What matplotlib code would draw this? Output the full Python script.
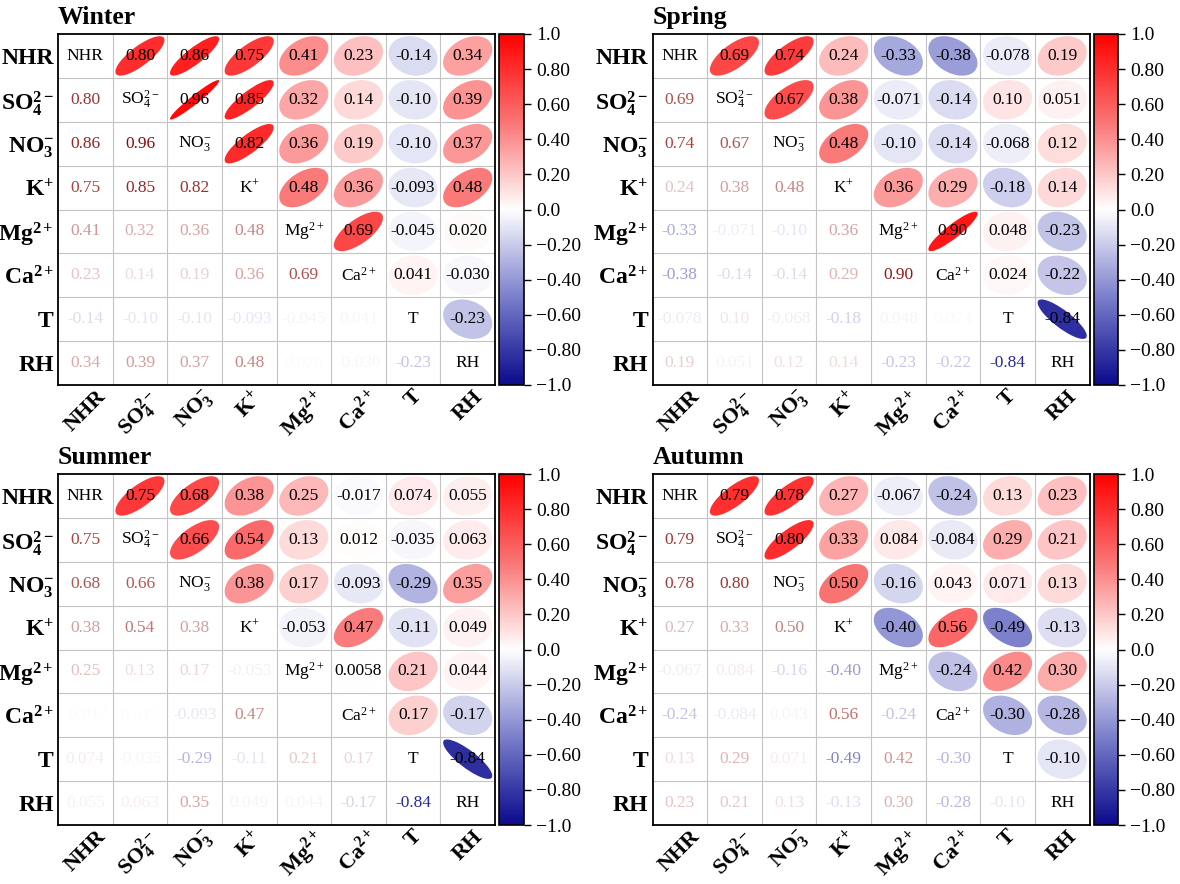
import numpy as np
import matplotlib
matplotlib.use('Agg')
import matplotlib.pyplot as plt
from matplotlib.patches import Ellipse
from matplotlib.colors import LinearSegmentedColormap, Normalize
from matplotlib.cm import ScalarMappable

plt.rcParams['font.family'] = ['Liberation Serif', 'DejaVu Serif']
plt.rcParams['mathtext.fontset'] = 'custom'
plt.rcParams['mathtext.rm'] = 'Liberation Serif'
plt.rcParams['mathtext.it'] = 'Liberation Serif:italic'
plt.rcParams['mathtext.bf'] = 'Liberation Serif:bold'
plt.rcParams['mathtext.default'] = 'regular'

# ---------------- data ----------------
variables = ['NHR', 'SO$_4^{2-}$', 'NO$_3^{-}$', 'K$^{+}$', 'Mg$^{2+}$', 'Ca$^{2+}$', 'T', 'RH']
seasons = ['Winter', 'Spring', 'Summer', 'Autumn']

# upper triangle rows (values to the right of the diagonal)
winter_upper = [
    [0.80, 0.86, 0.75, 0.41, 0.23, -0.14, 0.34],
    [0.96, 0.85, 0.32, 0.14, -0.10, 0.39],
    [0.82, 0.36, 0.19, -0.10, 0.37],
    [0.48, 0.36, -0.093, 0.48],
    [0.69, -0.045, 0.020],
    [0.041, -0.030],
    [-0.23],
]
spring_upper = [
    [0.69, 0.74, 0.24, -0.33, -0.38, -0.078, 0.19],
    [0.67, 0.38, -0.071, -0.14, 0.10, 0.051],
    [0.48, -0.10, -0.14, -0.068, 0.12],
    [0.36, 0.29, -0.18, 0.14],
    [0.90, 0.048, -0.23],
    [0.024, -0.22],
    [-0.84],
]
summer_upper = [
    [0.75, 0.68, 0.38, 0.25, -0.017, 0.074, 0.055],
    [0.66, 0.54, 0.13, 0.012, -0.035, 0.063],
    [0.38, 0.17, -0.093, -0.29, 0.35],
    [-0.053, 0.47, -0.11, 0.049],
    [0.0058, 0.21, 0.044],
    [0.17, -0.17],
    [-0.84],
]
autumn_upper = [
    [0.79, 0.78, 0.27, -0.067, -0.24, 0.13, 0.23],
    [0.80, 0.33, 0.084, -0.084, 0.29, 0.21],
    [0.50, -0.16, 0.043, 0.071, 0.13],
    [-0.40, 0.56, -0.49, -0.13],
    [-0.24, 0.42, 0.30],
    [-0.30, -0.28],
    [-0.10],
]
season_data = [winter_upper, spring_upper, summer_upper, autumn_upper]
cbar_ticks = [1.0, 0.8, 0.6, 0.4, 0.2, 0.0, -0.2, -0.4, -0.6, -0.8, -1.0]

# ---------------- style ----------------
cmap = LinearSegmentedColormap.from_list(
    'corr', [(0.0, '#0a0a8c'), (0.25, '#7a7ecb'), (0.5, '#ffffff'),
             (0.75, '#fa7474'), (1.0, '#ff0000')])
norm = Normalize(-1, 1)

def fmt(v):
    return f"{v:#.2g}"

def build(upper):
    n = len(upper) + 1
    m = np.eye(n)
    for i, row in enumerate(upper):
        for k, v in enumerate(row):
            j = i + 1 + k
            m[i, j] = v
            m[j, i] = v
    return m

fig = plt.figure(figsize=(11.8, 8.84), dpi=100)
W, H = 1180, 884
ax_w = 437 / W
ax_h = 351 / H
lefts = [58 / W, 652.5 / W, 58 / W, 652.5 / W]
bottoms = [1 - 385 / H, 1 - 385 / H, 1 - 825 / H, 1 - 825 / H]

s = 0.45
n = len(variables)
for idx, (name, upper) in enumerate(zip(seasons, season_data)):
    m = build(upper)
    ax = fig.add_axes([lefts[idx], bottoms[idx], ax_w, ax_h])
    ax.set_xlim(-0.5, n - 0.5)
    ax.set_ylim(-0.5, n - 0.5)
    for i in range(n):
        y = n - 1 - i
        for j in range(n):
            v = m[i, j]
            if i == j:
                ax.text(j, y, variables[i], ha='center', va='center', fontsize=12.5, color='black')
            elif j > i:
                e = Ellipse((j, y), width=2 * s * np.sqrt(1 + abs(v)),
                            height=2 * s * np.sqrt(1 - abs(v)),
                            angle=45 if v > 0 else -45,
                            facecolor=cmap(norm(v)), edgecolor='none', zorder=2)
                ax.add_patch(e)
                ax.text(j, y, fmt(v), ha='center', va='center', fontsize=12.5,
                        color='black', zorder=3)
            else:
                col = '#8b0000' if v > 0 else '#00008b'
                ax.text(j, y, fmt(v), ha='center', va='center', fontsize=12.5,
                        color=col, alpha=min(1, abs(v)), zorder=3)
    for k in range(1, n):
        ax.axhline(k - 0.5, color='#c4c4c4', lw=0.8, zorder=1)
        ax.axvline(k - 0.5, color='#c4c4c4', lw=0.8, zorder=1)
    ax.set_xticks(range(n))
    ax.set_xticklabels(variables, rotation=45, ha='center', fontsize=16, fontweight='bold')
    ax.set_yticks(range(n))
    ax.set_yticklabels(variables[::-1], fontsize=17, fontweight='bold')
    ax.tick_params(axis='y', length=0, pad=3)
    ax.tick_params(axis='x', length=0, pad=1)
    for sp in ax.spines.values():
        sp.set_linewidth(1.3)
        sp.set_color('black')
    ax.set_title(name, loc='left', fontsize=18.5, fontweight='bold', pad=7)

    cax = fig.add_axes([lefts[idx] + ax_w + 4 / W, bottoms[idx], 25 / W, ax_h])
    sm = ScalarMappable(norm=norm, cmap=cmap)
    cb = fig.colorbar(sm, cax=cax)
    cb.set_ticks(cbar_ticks)
    cb.set_ticklabels([fmt(t).replace('-', '\u2212') for t in cbar_ticks])
    cb.ax.tick_params(labelsize=14, length=5, width=1)
    cb.outline.set_linewidth(1.2)

fig.savefig('out.png', dpi=100)
